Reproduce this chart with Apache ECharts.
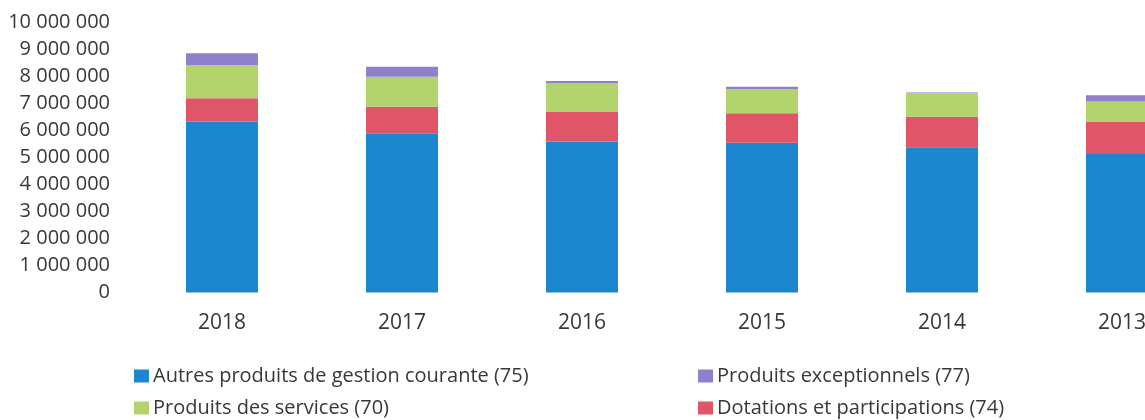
<!DOCTYPE html>
<html>
<head>
<meta charset="utf-8">
<script src="https://cdn.jsdelivr.net/npm/echarts@6/dist/echarts.min.js"></script>
<style>
  html, body { margin: 0; padding: 0; background: #fff; }
  #chart { width: 1145px; height: 420px; }
</style>
</head>
<body>
<div id="chart"></div>
<script>
// Years, newest first
const years = ['2018', '2017', '2016', '2015', '2014', '2013'];

// Revenue by account (euros)
const autresProduits = [6330000, 5900000, 5590000, 5550000, 5380000, 5130000]; // 75
const dotations      = [860000, 980000, 1110000, 1090000, 1130000, 1200000];   // 74
const produitsServ   = [1240000, 1110000, 1050000, 890000, 870000, 740000];    // 70
const produitsExcep  = [430000, 370000, 80000, 90000, 30000, 240000];          // 77

const names = {
  autres: 'Autres produits de gestion courante (75)',
  excep: 'Produits exceptionnels (77)',
  serv: 'Produits des services (70)',
  dot: 'Dotations et participations (74)'
};

const colors = {
  autres: '#1c86cf',
  dot: '#e05567',
  serv: '#b3d46c',
  excep: '#8f80cc'
};

const FONT = '"Open Sans", sans-serif';
const TEXT = '#383838';

function spaced(v) {
  return String(v).replace(/\B(?=(\d{3})+(?!\d))/g, ' ');
}

function legendAt(name, left, top) {
  return {
    data: [name],
    left: left,
    top: top,
    padding: 0,
    icon: 'rect',
    itemWidth: 15,
    itemHeight: 13,
    itemGap: 0,
    selectedMode: false,
    textStyle: { fontFamily: FONT, fontSize: 20, color: TEXT, lineHeight: 24, padding: [0, 0, 0, -1] }
  };
}

function bar(name, data, color) {
  return {
    name: name,
    type: 'bar',
    stack: 'total',
    data: data,
    barWidth: 72,
    itemStyle: { color: color },
    emphasis: { disabled: true }
  };
}

const chart = echarts.init(document.getElementById('chart'), null, { renderer: 'canvas' });
chart.setOption({
  animation: false,
  backgroundColor: '#ffffff',
  grid: { left: 132, top: 22.5, width: 1080, height: 270, outerBoundsMode: 'none', containLabel: false },
  legend: [
    legendAt(names.autres, 134, 364),
    legendAt(names.excep, 698, 364),
    legendAt(names.serv, 134, 396),
    legendAt(names.dot, 698, 396)
  ],
  xAxis: {
    type: 'category',
    data: years,
    axisLine: { show: false },
    axisTick: { show: false },
    axisLabel: { fontFamily: FONT, fontSize: 21, color: TEXT, margin: 20 }
  },
  yAxis: {
    type: 'value',
    min: 0,
    max: 10000000,
    interval: 1000000,
    axisLine: { show: false },
    axisTick: { show: false },
    splitLine: { show: false },
    axisLabel: {
      fontFamily: FONT, fontSize: 20, color: TEXT, margin: 22,
      formatter: spaced
    }
  },
  series: [
    bar(names.autres, autresProduits, colors.autres),
    bar(names.dot, dotations, colors.dot),
    bar(names.serv, produitsServ, colors.serv),
    bar(names.excep, produitsExcep, colors.excep)
  ]
});
</script>
</body>
</html>
